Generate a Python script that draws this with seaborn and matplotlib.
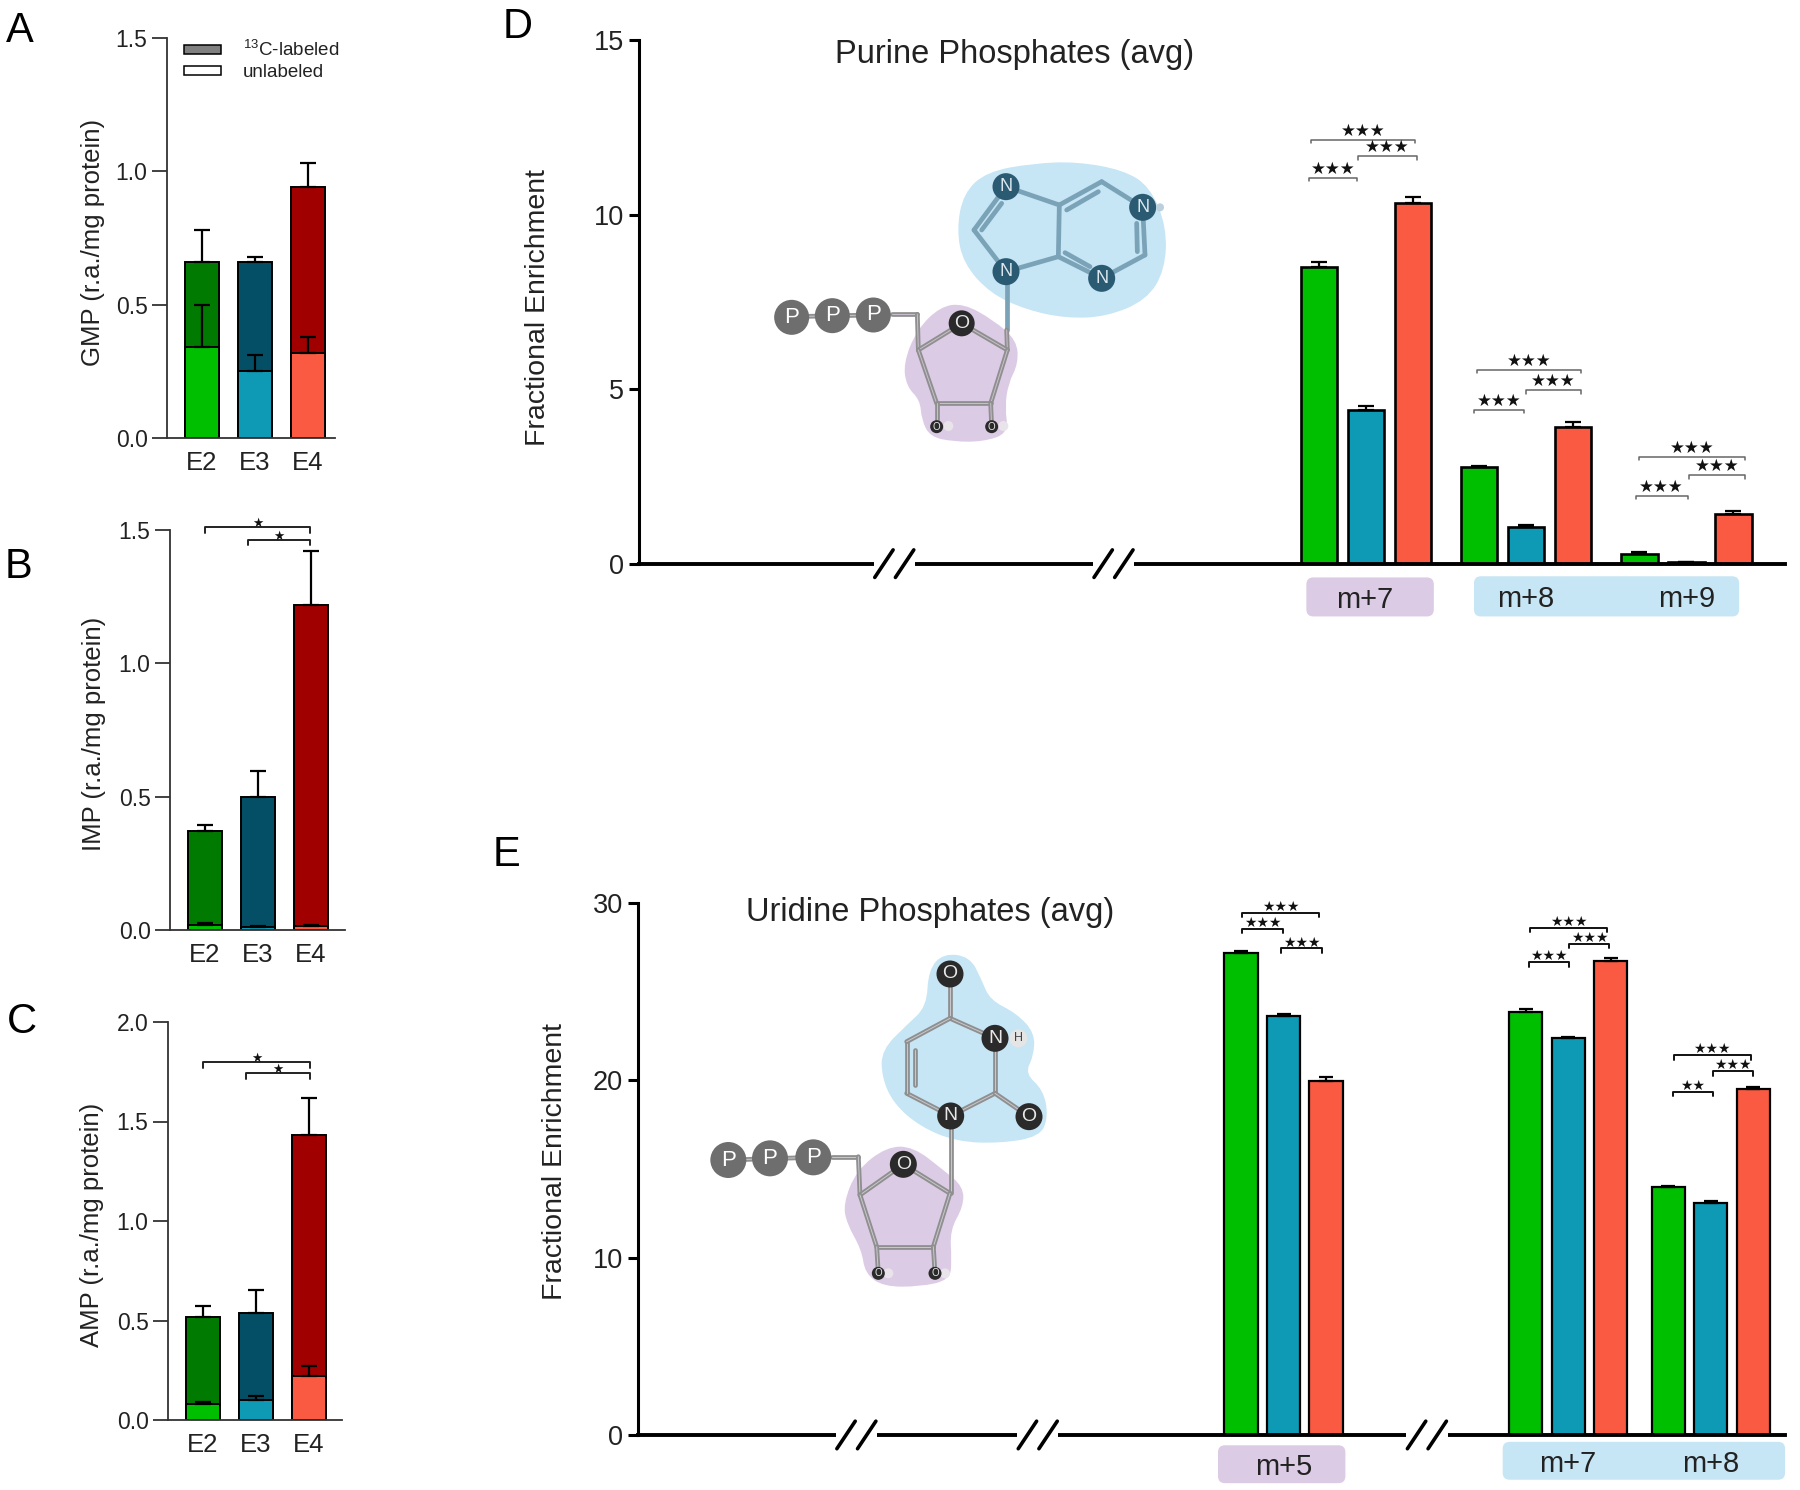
#%% IMPORTS
from matplotlib import pyplot as plt
from matplotlib.patches import Patch, PathPatch, FancyBboxPatch, Circle, Rectangle
from matplotlib.path import Path
import pandas as pd
import seaborn as sns

#%% DATA
genotypes = ['E2', 'E3', 'E4']

gmp_total = [0.66, 0.66, 0.94]
gmp_total_err = [0.12, 0.02, 0.09]
gmp_unlabeled = [0.34, 0.25, 0.32]
gmp_unlabeled_err = [0.16, 0.06, 0.06]

imp_total = [0.37, 0.50, 1.22]
imp_total_err = [0.025, 0.095, 0.20]
imp_unlabeled = [0.02, 0.01, 0.015]
imp_unlabeled_err = [0.008, 0.005, 0.005]

amp_total = [0.52, 0.54, 1.43]
amp_total_err = [0.055, 0.115, 0.19]
amp_unlabeled = [0.08, 0.10, 0.22]
amp_unlabeled_err = [0.01, 0.02, 0.05]

purine_groups = ['m+7', 'm+8', 'm+9']
purine_e2 = [8.50, 2.77, 0.30]
purine_e3 = [4.40, 1.07, 0.05]
purine_e4 = [10.33, 3.93, 1.43]
purine_e2_err = [0.14, 0.03, 0.03]
purine_e3_err = [0.12, 0.06, 0.02]
purine_e4_err = [0.17, 0.14, 0.09]

uridine_groups = ['m+5', 'm+7', 'm+8']
uridine_e2 = [27.2, 23.85, 14.0]
uridine_e3 = [23.6, 22.4, 13.1]
uridine_e4 = [19.96, 26.75, 19.5]
uridine_e2_err = [0.10, 0.15, 0.06]
uridine_e3_err = [0.15, 0.05, 0.08]
uridine_e4_err = [0.25, 0.15, 0.12]

#%% COLORS
light = dict(zip(genotypes, ['#00BE00', '#0E9AB5', '#F95A41']))
dark = dict(zip(genotypes, ['#007A00', '#054F66', '#A00000']))
BLOB_BLUE = '#C6E5F5'
BLOB_PURPLE = '#DCCBE5'
TEXT = '#222222'
SHOWN = 1800 / 1568  # most of the layout was measured on the shrunk picture

#%% SETUP
sns.set_theme(style='ticks')
plt.rcParams['font.family'] = ['Liberation Sans', 'DejaVu Sans']
plt.rcParams['mathtext.fontset'] = 'custom'
plt.rcParams['mathtext.rm'] = 'Liberation Sans'
plt.rcParams['mathtext.default'] = 'regular'
plt.rcParams['text.color'] = TEXT
plt.rcParams['axes.labelcolor'] = TEXT
plt.rcParams['xtick.color'] = TEXT
plt.rcParams['ytick.color'] = TEXT

FIG_W, FIG_H = 1800, 1490
fig = plt.figure(figsize=(18, 14.9), dpi=100)


def add_panel(x0, y_top, x1, y_bottom):
  ax = fig.add_axes([x0 / FIG_W, 1 - y_bottom / FIG_H, (x1 - x0) / FIG_W, (y_bottom - y_top) / FIG_H])
  ax.patch.set_alpha(0)
  return ax, (x0, x1)


def set_cat_xlim(ax, span, first_center, pitch):
  ax.set_xlim((span[0] - first_center) / pitch, (span[1] - first_center) / pitch)


def add_errs(ax, bars, errs, capsize, lw):
  for bar, err in zip(bars, errs):
    ax.errorbar(bar.get_x() + bar.get_width() / 2, bar.get_height(), yerr=[[0], [err]],
                color='black', elinewidth=lw, capsize=capsize, capthick=lw, zorder=5)


def stacked_panel(rect, first_center, name, total, total_err, unlabeled, unlabeled_err, top, ticks, label_right):
  ax, span = add_panel(*rect)
  df = pd.DataFrame({'genotype': genotypes, 'total': total, 'unlabeled': unlabeled})
  sns.barplot(data=df, x='genotype', y='total', hue='genotype', palette=dark, saturation=1, width=0.64,
              edgecolor='black', linewidth=1.4, legend=False, ax=ax)
  n_dark = len(ax.patches)
  sns.barplot(data=df, x='genotype', y='unlabeled', hue='genotype', palette=light, saturation=1, width=0.64,
              edgecolor='black', linewidth=1.4, legend=False, ax=ax)
  add_errs(ax, ax.patches[:n_dark], total_err, 6, 1.6)
  add_errs(ax, ax.patches[n_dark:], unlabeled_err, 6, 1.6)
  set_cat_xlim(ax, span, first_center, 53)
  ax.set_ylim(0, top)
  ax.set_yticks(ticks)
  ax.set_yticklabels([f'{t:.1f}' for t in ticks])
  ax.tick_params(axis='y', labelsize=16.5, length=11, width=1.3, color='#333333', pad=3)
  ax.tick_params(axis='x', labelsize=18.5, length=0, pad=9)
  ax.set_xlabel('')
  ax.set_ylabel(name + ' (r.a./mg protein)', fontsize=18.5)
  ax.yaxis.set_label_coords((label_right - span[0]) / (span[1] - span[0]), 0.49)
  sns.despine(ax=ax)
  for side in ['left', 'bottom']:
    ax.spines[side].set_linewidth(1.3)
    ax.spines[side].set_color('#333333')
  return ax


def grouped_panel(rect, first_center, pitch, width, gap, order, groups, values, errs, top, ticks, capsize, edge, label_right, label_y):
  ax, span = add_panel(*rect)
  df = pd.DataFrame({
    'group': groups * len(genotypes),
    'genotype': [g for g in genotypes for _ in groups],
    'value': values[0] + values[1] + values[2],
  })
  sns.barplot(data=df, x='group', y='value', hue='genotype', order=order, hue_order=genotypes,
              palette=light, saturation=1, width=width, gap=gap, edgecolor='black', linewidth=edge, legend=False, ax=ax)
  for container, err in zip(ax.containers, errs):
    add_errs(ax, container, err, capsize, 1.6)
  set_cat_xlim(ax, span, first_center, pitch)
  ax.set_ylim(0, top)
  ax.set_yticks(ticks)
  ax.set_xticks([])
  ax.tick_params(axis='y', labelsize=19.5, length=7.5, width=2.2, color='black', pad=3.5)
  ax.set_xlabel('')
  ax.set_ylabel('Fractional Enrichment', fontsize=20.5)
  ax.yaxis.set_label_coords((label_right - span[0]) / (span[1] - span[0]), label_y)
  sns.despine(ax=ax)
  ax.spines['left'].set_linewidth(2.2)
  ax.spines['left'].set_color('black')
  ax.spines['bottom'].set_linewidth(2.8)
  ax.spines['bottom'].set_color('black')
  return ax


#%% PANELS A-C
ax_a = stacked_panel((167, 38, 335, 438), 202, 'GMP', gmp_total, gmp_total_err, gmp_unlabeled, gmp_unlabeled_err,
                     1.5, [0.0, 0.5, 1.0, 1.5], 105)
stacked_panel((170, 530, 345, 930), 205, 'IMP', imp_total, imp_total_err, imp_unlabeled, imp_unlabeled_err,
              1.5, [0.0, 0.5, 1.0, 1.5], 106)
stacked_panel((168, 1022, 342, 1420), 203, 'AMP', amp_total, amp_total_err, amp_unlabeled, amp_unlabeled_err,
              2.0, [0.0, 0.5, 1.0, 1.5, 2.0], 104)

handles = [Patch(facecolor='#808080', edgecolor='black', linewidth=1.1, label='$^{13}$C-labeled'),
           Patch(facecolor='white', edgecolor='black', linewidth=1.1, label='unlabeled')]
ax_a.legend(handles=handles, loc='upper left', bbox_to_anchor=(0.10, 0.995), frameon=False, fontsize=13.5,
            handlelength=2.0, handleheight=0.35, handletextpad=1.15, labelspacing=0.2, borderpad=0, borderaxespad=0)

#%% PANELS D-E
grouped_panel((639, 40, 1785, 564), 1366, 160.1, 0.881, 0.22, purine_groups, purine_groups,
              [purine_e2, purine_e3, purine_e4], [purine_e2_err, purine_e3_err, purine_e4_err],
              15, [0, 5, 10, 15], 6, 1.9, 551, 0.49)
grouped_panel((638, 903, 1785, 1435), 1283.5, 142.4, 0.895, 0.216, ['m+5', 'm+6', 'm+7', 'm+8'], uridine_groups,
              [uridine_e2, uridine_e3, uridine_e4], [uridine_e2_err, uridine_e3_err, uridine_e4_err],
              30, [0, 10, 20, 30], 5, 1.6, 568, 0.515)

#%% OVERLAY (letters, labels, brackets, axis breaks, molecules), in picture pixels
over = fig.add_axes([0, 0, 1, 1], zorder=10)
over.set_xlim(0, FIG_W)
over.set_ylim(FIG_H, 0)
over.axis('off')

for letter, x, y in [('A', 20, 31), ('B', 18, 567), ('C', 22, 1022), ('D', 518, 27), ('E', 507, 855)]:
  over.text(x, y, letter, fontsize=30, color='black', ha='center', va='center')

over.text(1015, 54, 'Purine Phosphates (avg)', fontsize=23.5, ha='center', va='center')
over.text(930, 912, 'Uridine Phosphates (avg)', fontsize=23.5, ha='center', va='center')


def label_box(x0, x1, y0, y1, color, labels):
  over.add_patch(FancyBboxPatch((x0 * SHOWN + 5, y0 * SHOWN + 5), (x1 - x0) * SHOWN - 10, (y1 - y0) * SHOWN - 10,
                                boxstyle='round,pad=5,rounding_size=7', facecolor=color, edgecolor='none'))
  for text, xc in labels:
    over.text(xc * SHOWN, (y0 + y1) / 2 * SHOWN + 3, text, fontsize=21, ha='center', va='center')


label_box(1138, 1249, 503, 537, BLOB_PURPLE, [('m+7', 1189)])
label_box(1284, 1515, 502, 537, BLOB_BLUE, [('m+8', 1329), ('m+9', 1469)])
label_box(1061, 1172, 1259, 1292, BLOB_PURPLE, [('m+5', 1118)])
label_box(1309, 1555, 1256, 1289, BLOB_BLUE, [('m+7', 1366), ('m+8', 1490)])


def bracket(x0, x1, y, stars, color='#666666', lw=1.1, drop=3, size=12, lift=8):
  over.plot([x0 * SHOWN, x0 * SHOWN, x1 * SHOWN, x1 * SHOWN],
            [(y + drop) * SHOWN, y * SHOWN, y * SHOWN, (y + drop) * SHOWN], color=color, lw=lw)
  over.text((x0 + x1) / 2 * SHOWN, (y - lift) * SHOWN, stars, fontsize=size, color='#111111',
            family='DejaVu Sans', ha='center', va='center')


for x0, x1, y in [(1140, 1182, 155), (1183, 1234, 136), (1142, 1233, 122),
                  (1284, 1328, 357), (1329, 1377, 340), (1287, 1377, 322),
                  (1425, 1470, 432), (1471, 1520, 414), (1428, 1520, 398)]:
  bracket(x0, x1, y, '★★★')

for x0, x1, y, stars in [(1082, 1149, 795, '★★★'), (1082, 1118, 809, '★★★'), (1116, 1152, 826, '★★★'),
                         (1333, 1400, 808, '★★★'), (1367, 1402, 822, '★★★'), (1332, 1367, 838, '★★★'),
                         (1458, 1525, 919, '★★★'), (1492, 1527, 933, '★★★'), (1457, 1492, 951, '★★')]:
  bracket(x0, x1, y, stars, color='#111111', lw=1.4, drop=4, size=10, lift=5)

for x0, x1, y in [(179, 270, 459), (216, 270, 470), (177, 270, 925), (214, 270, 935)]:
  bracket(x0, x1, y, '★', color='#222222', lw=1.4, drop=5, size=9, lift=3)


def axis_break(xc, y):
  over.add_patch(Rectangle(((xc - 18) * SHOWN, (y - 4) * SHOWN), 36 * SHOWN, 8 * SHOWN, facecolor='white', edgecolor='none'))
  for dx in [-9, 9]:
    over.plot([(xc + dx - 8) * SHOWN, (xc + dx + 8) * SHOWN], [(y + 12) * SHOWN, (y - 12) * SHOWN], color='black', lw=2.6)


for xc in [779, 970]:
  axis_break(xc, 491)
for xc in [746, 904, 1243]:
  axis_break(xc, 1250)


#%% MOLECULES
def blob(points, color, origin):
  pts = [(origin[0] + x / 3, origin[1] + y / 3) for x, y in points]
  mids = [((pts[i][0] + pts[(i + 1) % len(pts)][0]) / 2, (pts[i][1] + pts[(i + 1) % len(pts)][1]) / 2) for i in range(len(pts))]
  verts = [mids[-1]]
  codes = [Path.MOVETO]
  for p, m in zip(pts, mids):
    verts += [p, m]
    codes += [Path.CURVE3, Path.CURVE3]
  over.add_patch(PathPatch(Path(verts, codes), facecolor=color, edgecolor='none', zorder=1))


def bonds(lines, color, origin, lw=3.4, inner=None):
  for x0, y0, x1, y1 in lines:
    xs = [origin[0] + x0 / 3, origin[0] + x1 / 3]
    ys = [origin[1] + y0 / 3, origin[1] + y1 / 3]
    over.plot(xs, ys, color=color, lw=lw, solid_capstyle='round', zorder=2)
    if inner:
      over.plot(xs, ys, color=inner, lw=0.7, zorder=2)


def atoms(items, color, origin, radius, text_color='white', size=None):
  for x, y, name in items:
    cx, cy = origin[0] + x / 3, origin[1] + y / 3
    over.add_patch(Circle((cx, cy), radius, facecolor=color, edgecolor='none', zorder=3))
    if name:
      over.text(cx, cy, name, color=text_color, fontsize=size, ha='center', va='center', zorder=4)


# purine
o = (700, 130)
blob([(770, 300), (790, 190), (860, 125), (1000, 100), (1130, 95), (1270, 120), (1350, 170), (1400, 290), (1395, 420),
      (1340, 510), (1220, 560), (1100, 565), (980, 540), (870, 490), (790, 400)], BLOB_BLUE, o)
blob([(610, 700), (650, 600), (720, 530), (790, 520), (880, 570), (950, 630), (955, 700), (925, 760), (915, 830),
      (925, 910), (850, 935), (760, 935), (690, 920), (665, 870), (660, 810), (620, 770)], BLOB_PURPLE, o)
bonds([(918, 170, 1078, 225), (1078, 225, 1205, 155), (1205, 155, 1328, 232), (1328, 232, 1335, 375),
       (1335, 375, 1205, 445), (1205, 445, 1075, 380), (1075, 380, 1078, 225), (1075, 380, 918, 425),
       (918, 425, 822, 300), (822, 300, 918, 170), (1100, 240, 1195, 185), (1310, 280, 1312, 365),
       (1095, 368, 1170, 410), (845, 300, 905, 220), (920, 425, 920, 600)], '#7BA3B8', o)
bonds([(920, 600, 922, 660), (275, 560, 520, 555), (575, 553, 652, 553), (652, 553, 655, 660), (655, 660, 785, 580),
       (785, 580, 922, 660), (922, 660, 872, 820), (655, 660, 710, 820), (710, 820, 872, 820),
       (710, 820, 710, 890), (872, 820, 875, 890)], '#8F8F8F', o, inner='#C8C0CC')
atoms([(918, 170, 'N'), (1328, 232, 'N'), (1205, 445, 'N'), (918, 425, 'N')], '#2B5A73', o, 13.5, '#DDE8EE', 13)
atoms([(1380, 232, '')], '#BBD0DC', o, 4)
atoms([(275, 562, 'P'), (397, 557, 'P'), (520, 555, 'P')], '#6E6E6E', o, 17.5, 'white', 16)
atoms([(785, 580, 'O')], '#2A2A2A', o, 13, '#E8E8E8', 14)
atoms([(745, 888, ''), (910, 888, '')], '#E8E4EA', o, 5)
atoms([(710, 890, 'O'), (875, 890, 'O')], '#2A2A2A', o, 6.5, '#E8E8E8', 7)

# uridine
o = (680, 930)
blob([(605, 360), (680, 285), (740, 230), (745, 120), (790, 70), (870, 80), (905, 150), (930, 210), (1010, 250),
      (1065, 310), (1060, 380), (1035, 430), (1090, 480), (1105, 560), (1080, 620), (960, 640), (830, 635),
      (720, 590), (640, 520), (605, 440)], BLOB_BLUE, o)
blob([(490, 820), (530, 720), (620, 650), (700, 650), (790, 720), (850, 770), (850, 830), (810, 900), (815, 990),
      (810, 1050), (720, 1070), (610, 1070), (555, 1030), (545, 960), (500, 880)], BLOB_PURPLE, o)
bonds([(810, 132, 810, 265), (810, 265, 945, 325), (945, 325, 945, 490), (945, 490, 812, 558), (812, 558, 680, 490),
       (680, 490, 680, 335), (680, 335, 810, 265), (945, 490, 1047, 560), (705, 360, 705, 465), (812, 558, 812, 790),
       (145, 690, 400, 682), (455, 680, 535, 680), (535, 680, 540, 795), (540, 795, 670, 703), (670, 703, 810, 790),
       (810, 790, 760, 950), (540, 795, 590, 950), (590, 950, 760, 950), (590, 950, 595, 1030), (760, 950, 765, 1030)],
      '#8F8F8F', o, inner='#C8C8D0')
atoms([(810, 132, 'O'), (945, 325, 'N'), (812, 558, 'N'), (1047, 560, 'O'), (670, 703, 'O')], '#2A2A2A', o, 13.5, '#E8E8E8', 14)
atoms([(1015, 325, 'H')], '#E5E5E5', o, 9, '#444444', 9)
atoms([(145, 690, 'P'), (270, 685, 'P'), (400, 682, 'P')], '#6E6E6E', o, 18, 'white', 16)
atoms([(625, 1030, ''), (795, 1030, '')], '#E8E4EA', o, 5)
atoms([(595, 1030, 'O'), (765, 1030, 'O')], '#2A2A2A', o, 6.5, '#E8E8E8', 7)

fig.savefig('out.png', dpi=100)
